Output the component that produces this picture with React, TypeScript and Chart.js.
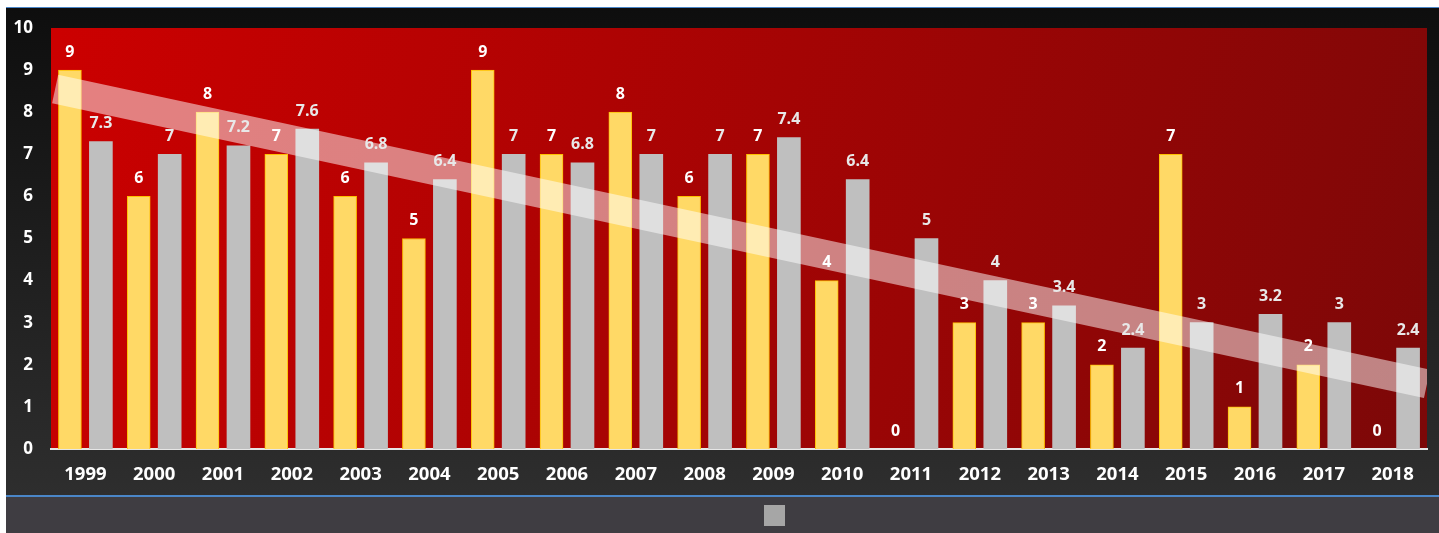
import React, { useEffect, useRef } from "react";
import { Chart, registerables } from "chart.js";

Chart.register(...registerables);

const years = ["1999","2000","2001","2002","2003","2004","2005","2006","2007","2008","2009","2010","2011","2012","2013","2014","2015","2016","2017","2018"];
const seriesA = [9, 6, 8, 7, 6, 5, 9, 7, 8, 6, 7, 4, 0, 3, 3, 2, 7, 1, 2, 0];
const seriesB = [7.3, 7, 7.2, 7.6, 6.8, 6.4, 7, 6.8, 7, 7, 7.4, 6.4, 5, 4, 3.4, 2.4, 3, 3.2, 3, 2.4];
const trendX = [-0.44, 19.5];
const trendY = [8.55, 1.55];
const xRange = [-0.5, 19.5];
const yTicks = [0, 10];
const barShift = 0.225;

const FONT = "'Open Sans', Lato, sans-serif";

const panelPlugin = {
  id: "panel",
  beforeDraw(chart: any) {
    const { ctx, width, height, chartArea } = chart;
    ctx.save();
    ctx.fillStyle = "#4a86c8";
    ctx.fillRect(0, 0, width, 1);
    const g = ctx.createLinearGradient(0, 1, 0, 488);
    g.addColorStop(0, "#0e0e0e");
    g.addColorStop(1, "#2e2e2e");
    ctx.fillStyle = g;
    ctx.fillRect(0, 1, width, 487);
    ctx.fillStyle = "#4a86c8";
    ctx.fillRect(0, 488, width, 2);
    ctx.fillStyle = "#3f3d42";
    ctx.fillRect(0, 490, width, height - 490);
    ctx.fillStyle = "#a6a6a6";
    ctx.fillRect(758, 498, 21, 21);
    const { left, top, right, bottom } = chartArea;
    const rg = ctx.createLinearGradient(left, top, right, bottom);
    rg.addColorStop(0, "#cc0000");
    rg.addColorStop(1, "#7c0808");
    ctx.fillStyle = rg;
    ctx.fillRect(left, top, right - left, bottom - top);
    ctx.restore();
  },
};

const labelPlugin = {
  id: "barLabels",
  afterDatasetsDraw(chart: any) {
    const { ctx } = chart;
    ctx.save();
    ctx.font = `bold 16px ${FONT}`;
    ctx.textAlign = "center";
    ctx.textBaseline = "middle";
    [0, 1].forEach((di) => {
      const meta = chart.getDatasetMeta(di);
      const data = di === 0 ? seriesA : seriesB;
      ctx.fillStyle = di === 0 ? "#ffffff" : "#e8e8e8";
      meta.data.forEach((el: any, i: number) => {
        ctx.fillText(String(data[i]), el.x, el.y - 18);
      });
    });
    ctx.restore();
  },
};

export default function App() {
  const ref = useRef<HTMLCanvasElement | null>(null);
  useEffect(() => {
    if (!ref.current) return;
    const chart = new Chart(ref.current, {
      type: "bar",
      data: {
        datasets: [
          {
            type: "bar",
            label: "A",
            data: seriesA.map((v, i) => ({ x: i - barShift, y: v })),
            backgroundColor: "#ffd966",
            borderColor: "#ffc000",
            borderWidth: 1,
            barThickness: 23,
            grouped: false,
            order: 1,
          } as any,
          {
            type: "bar",
            label: "B",
            data: seriesB.map((v, i) => ({ x: i + barShift, y: v })),
            backgroundColor: "#bfbfbf",
            borderWidth: 0,
            barThickness: 23,
            grouped: false,
            order: 1,
          } as any,
          {
            type: "line",
            label: "Trend",
            data: trendX.map((x, i) => ({ x, y: trendY[i] })),
            borderColor: "rgba(255,255,255,0.5)",
            borderWidth: 29,
            borderCapStyle: "butt",
            pointRadius: 0,
            fill: false,
            clip: 0,
            order: 0,
          } as any,
        ],
      },
      options: {
        animation: false,
        responsive: false,
        maintainAspectRatio: false,
        layout: { autoPadding: false, padding: { top: 21, right: 12, bottom: 44, left: 0 } },
        plugins: { legend: { display: false }, tooltip: { enabled: false } },
        scales: {
          x: {
            type: "linear",
            offset: false,
            min: xRange[0],
            max: xRange[1],
            grid: { display: false },
            border: { display: true, color: "#e6e6e6", width: 2 },
            afterBuildTicks(scale: any) {
              scale.ticks = years.map((_, i) => ({ value: i }));
            },
            ticks: {
              color: "#ffffff",
              font: { family: FONT, size: 18.5, weight: "bold" },
              padding: 7,
              maxRotation: 0,
              autoSkip: false,
              callback: (v: any) => years[Math.round(v)] ?? "",
            },
            afterFit(scale: any) {
              scale.height = 40;
              scale.paddingLeft = 0;
              scale.paddingRight = 0;
            },
          },
          y: {
            min: yTicks[0],
            max: yTicks[1],
            grid: { display: false, drawTicks: false },
            border: { display: false },
            ticks: { stepSize: 1, color: "#ffffff", font: { family: FONT, size: 17, weight: "bold" }, padding: 18 },
            afterFit(scale: any) {
              scale.width = 45;
              scale.paddingTop = 0;
              scale.paddingBottom = 0;
            },
          },
        },
      } as any,
      plugins: [panelPlugin, labelPlugin],
    });
    return () => chart.destroy();
  }, []);
  return (
    <div style={{ position: "fixed", left: 6, top: 7, width: 1433, height: 526 }}>
      <canvas ref={ref} width={1433} height={526} style={{ display: "block" }} />
    </div>
  );
}
